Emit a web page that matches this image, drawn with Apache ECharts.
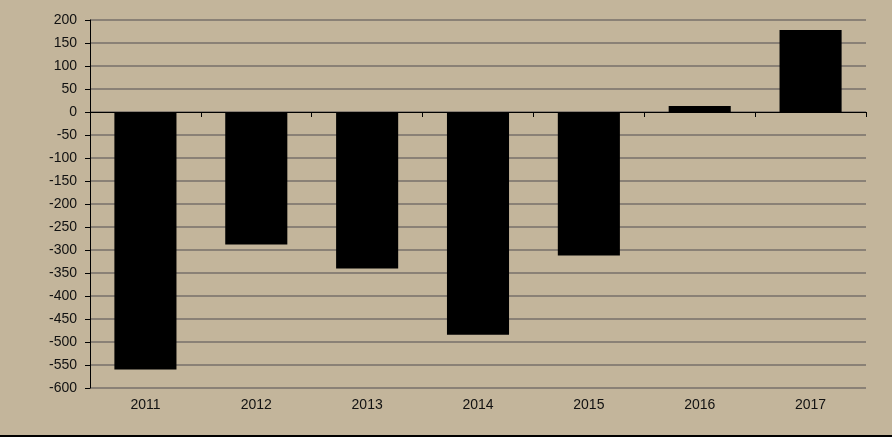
<!DOCTYPE html>
<html><head><meta charset="utf-8">
<script src="https://cdn.jsdelivr.net/npm/echarts@6/dist/echarts.min.js"></script>
<style>html,body{margin:0;padding:0;background:#c3b59b;}#c{width:892px;height:437px;}</style>
</head><body><div id="c"></div>
<script>
const categories = ['2011','2012','2013','2014','2015','2016','2017'];
const values = [-560, -288, -340, -484, -312, 13, 178];
const yMin = -600, yMax = 200, yStep = 50;

const chart = echarts.init(document.getElementById('c'));
chart.setOption({
  backgroundColor: '#c3b59b',
  animation: false,
  grid: {left: 90, right: 26, top: 20, bottom: 49},
  xAxis: [{
    type: 'category', data: categories, position: 'bottom',
    axisLine: {onZero: false, show: false}, axisTick: {show: false},
    axisLabel: {color: '#111', fontFamily: 'Liberation Sans, Arial', fontSize: 14, margin: 10},
    splitLine: {show: false}
  }, {
    type: 'category', data: categories, position: 'bottom',
    axisLine: {onZero: true, onZeroAxisIndex: 0, lineStyle: {color: '#000', width: 1}},
    axisTick: {show: true, length: 5, lineStyle: {color: '#000'}},
    axisLabel: {show: false}
  }],
  yAxis: {
    type: 'value', min: yMin, max: yMax, interval: yStep,
    axisLine: {show: true, lineStyle: {color: '#000', width: 1}},
    axisTick: {show: true, length: 5, lineStyle: {color: '#000'}},
    axisLabel: {color: '#111', fontFamily: 'Liberation Sans, Arial', fontSize: 14, margin: 13},
    splitLine: {show: true, lineStyle: {color: '#8a8176', width: 2}}
  },
  series: [{
    type: 'bar', data: values, xAxisIndex: 0, barWidth: '56%',
    itemStyle: {color: '#000'}
  }],
  graphic: [{
    type: 'rect', left: 0, top: 435, shape: {width: 892, height: 2}, style: {fill: '#000'}
  }]
});
</script></body></html>
